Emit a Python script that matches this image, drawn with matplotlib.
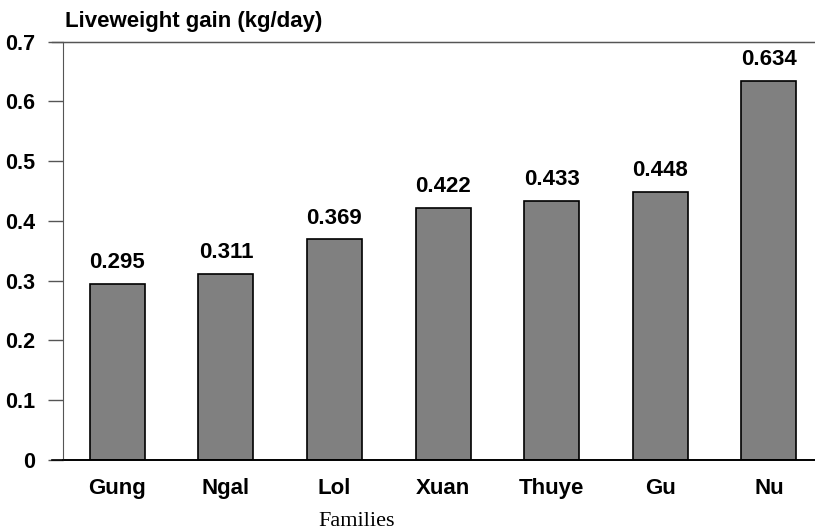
import numpy as np
import matplotlib.pyplot as plt

families = ['Gung', 'Ngal', 'Lol', 'Xuan', 'Thuye', 'Gu', 'Nu']
gain = [0.295, 0.311, 0.369, 0.422, 0.433, 0.448, 0.634]
yticks = [0, 0.1, 0.2, 0.3, 0.4, 0.5, 0.6, 0.7]

plt.rcParams['font.family'] = ['Liberation Sans', 'DejaVu Sans']

fig = plt.figure(figsize=(8.15, 5.29), dpi=100)
ax = fig.add_axes([63 / 815, 69 / 529, 751.5 / 815, 418.5 / 529])

x = np.arange(len(families))
ax.bar(x, gain, width=0.506, color='#808080', edgecolor='black', linewidth=1.2, zorder=2)

for xi, v in zip(x, gain):
    ax.text(xi, v + 0.018, f'{v:.3f}', ha='center', va='bottom',
            fontsize=16, fontweight='bold')

ax.set_xlim(-0.5, 6.42)
ax.set_ylim(0, 0.7)
ax.set_yticks(yticks)
ax.set_yticklabels(['0' if t == 0 else f'{t:.1f}' for t in yticks],
                   fontsize=15.5, fontweight='bold')
ax.set_xticks(x)
ax.set_xticklabels(families, fontsize=16, fontweight='bold')
ax.tick_params(axis='x', length=0, pad=13)
ax.tick_params(axis='y', length=11, width=1, color='#555555', pad=9, direction='out')

ax.spines['right'].set_visible(False)
ax.spines['top'].set_color('#555555')
ax.spines['left'].set_color('#555555')
ax.spines['bottom'].set_color('black')
ax.spines['bottom'].set_linewidth(1.2)
# bottom line extends over the zero tick
ax.axhline(0, xmin=-11 / 751.5, xmax=1, color='black', lw=1.2, clip_on=False)
ax.axhline(0.7, xmin=-11 / 751.5, xmax=1, color='#555555', lw=1, clip_on=False)

fig.text(65 / 815, 1 - 22 / 529, 'Liveweight gain (kg/day)', fontsize=16,
         fontweight='bold', ha='left', va='center')
fig.text(357 / 815, 1 - 521 / 529, 'Families', fontsize=16,
         family=['Liberation Serif', 'DejaVu Serif'], ha='center', va='center')

fig.savefig('out.png', dpi=100)
